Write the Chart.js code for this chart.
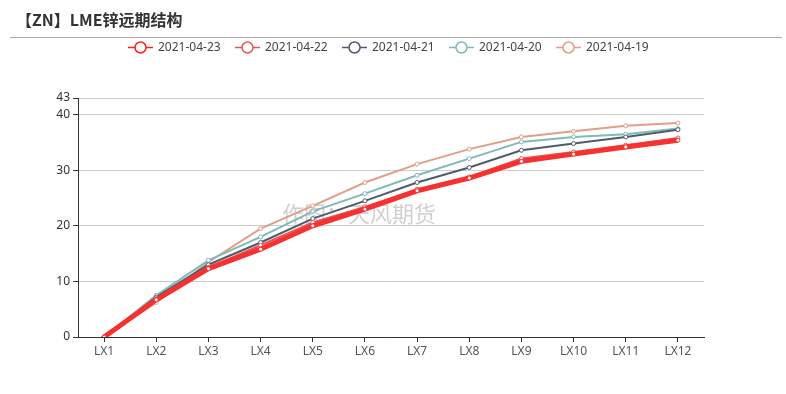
<!DOCTYPE html>
<html>
<head>
<meta charset="utf-8">
<script src="https://cdn.jsdelivr.net/npm/chart.js@4/dist/chart.umd.min.js"></script>
<style>
  html, body { margin: 0; padding: 0; background: #fff; }
  #wrap { position: relative; width: 786px; height: 394px; }
</style>
</head>
<body>
<div id="wrap"><canvas id="curve" width="786" height="394"></canvas></div>
<script>
// 合约
const months = ["LX1", "LX2", "LX3", "LX4", "LX5", "LX6", "LX7", "LX8", "LX9", "LX10", "LX11", "LX12"];
const dates = ["2021-04-23", "2021-04-22", "2021-04-21", "2021-04-20", "2021-04-19"];
const yTicks = [0, 10, 20, 30, 40, 43];

// 各日期远期曲线
const d0423 = [0, 6.7, 12.3, 15.8, 20.0, 23.0, 26.3, 28.6, 31.6, 32.9, 34.2, 35.4];
const d0422 = [0, 6.9, 12.5, 16.5, 20.6, 23.4, 26.6, 28.8, 32.1, 33.3, 34.5, 35.8];
const d0421 = [0, 7.2, 13.0, 17.0, 21.3, 24.5, 27.8, 30.5, 33.6, 34.8, 36.0, 37.3];
const d0420 = [0, 7.5, 13.8, 18.0, 22.6, 25.8, 29.1, 32.1, 35.1, 36.0, 36.5, 37.5];
const d0419 = [0, 6.2, 13.5, 19.5, 23.6, 27.8, 31.1, 33.8, 36.0, 37.0, 38.0, 38.5];

const seriesData = [d0423, d0422, d0421, d0420, d0419];
const colors = ["#f73030", "#e05a55", "#4f5b6d", "#80b9ba", "#e39e86"];
const legendColors = ["#ff2020", "#e05a55", "#4f5b6d", "#80b9ba", "#e39e86"];
const widths = [5, 2, 2, 2, 2];

const latinFont = '"Noto Sans", "Liberation Sans", sans-serif';
const cjkFont = '"Noto Sans CJK SC", "Noto Sans", sans-serif';

// 标题、分隔线、水印、图例
const decor = {
  id: "decor",
  beforeDatasetsDraw(chart) {
    const ctx = chart.ctx;
    ctx.save();
    ctx.font = "22px " + cjkFont;
    ctx.fillStyle = "rgba(150,150,150,0.45)";
    ctx.textAlign = "left";
    ctx.textBaseline = "middle";
    ctx.fillText("作图：天风期货", 282, 214);
    ctx.restore();
  },
  afterDraw(chart) {
    const ctx = chart.ctx;
    ctx.save();
    ctx.font = "bold 16px " + cjkFont;
    ctx.fillStyle = "#333";
    ctx.textBaseline = "middle";
    ctx.textAlign = "left";
    ctx.fillText("【ZN】LME锌远期结构", 16, 20);

    ctx.strokeStyle = "#aaa";
    ctx.lineWidth = 1;
    ctx.beginPath();
    ctx.moveTo(10, 37.5);
    ctx.lineTo(782, 37.5);
    ctx.stroke();

    ctx.font = "12px " + latinFont;
    let x = 128;
    const y = 47.5;
    dates.forEach((d, i) => {
      ctx.strokeStyle = legendColors[i];
      ctx.lineWidth = 1.5;
      ctx.beginPath();
      ctx.moveTo(x, y);
      ctx.lineTo(x + 25, y);
      ctx.stroke();
      ctx.beginPath();
      ctx.arc(x + 12.5, y, 5.5, 0, Math.PI * 2);
      ctx.fillStyle = "#fff";
      ctx.fill();
      ctx.lineWidth = 1.5;
      ctx.stroke();
      ctx.fillStyle = "#444";
      ctx.fillText(d, x + 30, y);
      x += 107;
    });
    ctx.restore();
  }
};

const ctx = document.getElementById("curve");
const chart = new Chart(ctx, {
  type: "line",
  data: {
    labels: months,
    datasets: dates.map((d, i) => ({
      label: d,
      data: seriesData[i],
      borderColor: colors[i],
      borderWidth: widths[i],
      backgroundColor: "#fff",
      pointBackgroundColor: "#fff",
      pointBorderColor: colors[i],
      pointBorderWidth: 1,
      pointRadius: 2,
      tension: 0,
      fill: false
    }))
  },
  options: {
    responsive: false,
    animation: false,
    layout: { padding: { top: 98, right: 82, bottom: 0, left: 0 } },
    plugins: {
      legend: { display: false },
      title: { display: false },
      tooltip: { enabled: false }
    },
    scales: {
      x: {
        offset: true,
        afterFit(scale) { scale.height = 57; },
        grid: { drawOnChartArea: false, offset: false, drawTicks: true, tickLength: 5, tickColor: "#333" },
        border: { color: "#333", width: 1 },
        ticks: { color: "#555", font: { size: 12, family: latinFont }, padding: 2, maxRotation: 0, autoSkip: false }
      },
      y: {
        min: 0,
        max: 43,
        afterFit(scale) { scale.width = 78; },
        afterBuildTicks(scale) { scale.ticks = yTicks.map(v => ({ value: v })); },
        grid: { color: "#ccc", tickLength: 5, tickColor: "#333" },
        border: { color: "#333", width: 1 },
        ticks: { color: "#333", font: { size: 12, family: latinFont }, padding: 3 }
      }
    }
  },
  plugins: [decor]
});
</script>
</body>
</html>
